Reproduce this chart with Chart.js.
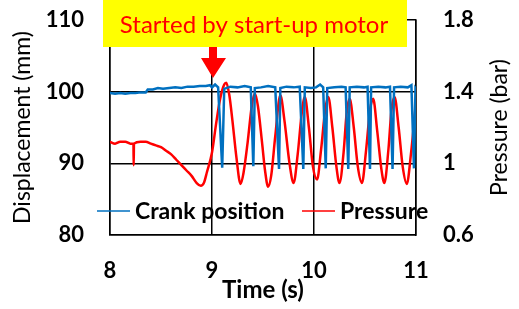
<!DOCTYPE html>
<html>
<head>
<meta charset="utf-8">
<script src="https://cdn.jsdelivr.net/npm/chart.js@4.4.1/dist/chart.umd.min.js"></script>
<style>
  html, body { margin: 0; padding: 0; background: #fff; }
  #wrap { width: 519px; height: 309px; }
</style>
</head>
<body>
<div id="wrap"><canvas id="chart"></canvas></div>
<script>
// crank position (mm)
const crankTime = [
  8.00, 8.05, 8.10, 8.15, 8.20, 8.25, 8.30, 8.35, 8.37, 8.42, 8.47, 8.52, 8.58, 8.64, 8.70,
  8.76, 8.82, 8.88, 8.94, 8.98, 9.00, 9.03, 9.06, 9.10, 9.12, 9.18, 9.25, 9.32, 9.38, 9.405,
  9.42, 9.48, 9.55, 9.62, 9.657, 9.67, 9.73, 9.80, 9.86, 9.895, 9.91, 9.97, 10.02, 10.06, 10.09,
  10.115, 10.13, 10.20, 10.27, 10.31, 10.336, 10.35, 10.42, 10.49, 10.525, 10.549, 10.56, 10.63, 10.70, 10.745,
  10.77, 10.785, 10.85, 10.92, 10.955, 10.98, 10.995, 11.00
]
const crankPos = [
  99.8, 99.7, 99.8, 99.7, 99.8, 99.8, 99.9, 99.9, 100.3, 100.3, 100.5, 100.4, 100.5, 100.6, 100.5,
  100.7, 100.7, 100.8, 100.8, 100.9, 100.6, 101.0, 100.6, 89.4, 100.4, 100.7, 100.6, 100.8, 100.6, 89.6,
  100.5, 100.6, 100.8, 100.6, 89.2, 100.5, 100.7, 100.6, 100.7, 89.2, 100.6, 100.5, 100.6, 101.0, 100.6,
  89.3, 100.5, 100.6, 100.7, 100.6, 89.2, 100.6, 100.7, 100.6, 100.7, 89.2, 100.6, 100.7, 100.6, 100.7,
  89.2, 100.6, 100.7, 100.6, 100.9, 89.3, 100.5, 100.4
]

// pressure (bar)
const pressureTime = [
  8.00, 8.05, 8.10, 8.15, 8.20, 8.23, 8.232, 8.235, 8.30, 8.35, 8.40, 8.45, 8.50, 8.55, 8.60,
  8.65, 8.70, 8.75, 8.80, 8.85, 8.89, 8.92, 8.95, 9.00, 9.04, 9.08, 9.12, 9.14, 9.17, 9.20,
  9.24, 9.28, 9.31, 9.35, 9.39, 9.42, 9.45, 9.49, 9.52, 9.55, 9.58, 9.62, 9.67, 9.71, 9.76,
  9.80, 9.84, 9.88, 9.91, 9.95, 9.99, 10.03, 10.07, 10.11, 10.14, 10.18, 10.22, 10.25, 10.29, 10.32,
  10.35, 10.39, 10.43, 10.47, 10.51, 10.55, 10.58, 10.62, 10.66, 10.69, 10.73, 10.76, 10.79, 10.83, 10.87,
  10.91, 10.95, 11.00
]
const pressure = [
  1.12, 1.11, 1.12, 1.12, 1.11, 1.11, 0.99, 1.11, 1.12, 1.12, 1.11, 1.10, 1.09, 1.07, 1.05,
  1.02, 0.99, 0.96, 0.93, 0.89, 0.875, 0.89, 0.95, 1.06, 1.22, 1.36, 1.44, 1.45, 1.38, 1.24,
  1.03, 0.885, 0.95, 1.12, 1.32, 1.39, 1.32, 1.12, 0.96, 0.87, 0.93, 1.15, 1.38, 1.24, 1.00,
  0.89, 1.05, 1.28, 1.37, 1.20, 0.98, 0.91, 1.08, 1.30, 1.37, 1.20, 0.98, 0.89, 1.06, 1.28,
  1.36, 1.20, 0.98, 0.89, 1.07, 1.30, 1.36, 1.18, 0.97, 0.89, 1.08, 1.30, 1.37, 1.20, 0.98,
  0.885, 1.05, 1.34
]

const xTicks = [8, 9, 10, 11]
const leftTicks = [80, 90, 100, 110]
const rightTicks = [0.6, 1, 1.4, 1.8]

const FONT = 'Lato, "Open Sans", sans-serif'
const BLUE = 'rgb(0, 112, 192)'
const RED = 'rgb(255, 0, 0)'

const toPoints = (xs, ys) => xs.map((x, i) => ({ x: x, y: ys[i] }))

// legend, note box, arrow and the right-hand title
const overlay = {
  id: 'overlay',
  afterDatasetsDraw(chart) {
    const ctx = chart.ctx
    const area = chart.chartArea
    const y = 211
    ctx.save()
    ctx.font = 'bold 23px ' + FONT
    ctx.textBaseline = 'middle'
    ctx.textAlign = 'left'
    let x = area.left - 13
    chart.data.datasets.forEach((ds) => {
      ctx.strokeStyle = ds.borderColor
      ctx.lineWidth = 1.5
      ctx.beginPath()
      ctx.moveTo(x, y)
      ctx.lineTo(x + 33, y)
      ctx.stroke()
      ctx.fillStyle = '#000'
      ctx.fillText(ds.label, x + 38, y + 1)
      x += 205
    })
    ctx.restore()
  },
  afterDraw(chart) {
    const ctx = chart.ctx
    const area = chart.chartArea
    const xs = chart.scales.x
    ctx.save()
    // note box
    ctx.fillStyle = '#ffff00'
    ctx.fillRect(103, 0, 304, 47)
    ctx.fillStyle = RED
    ctx.font = '24px ' + FONT
    ctx.textAlign = 'center'
    ctx.textBaseline = 'middle'
    ctx.fillText('Started by start-up motor', 254, 25)
    // arrow pointing at t = 9 s
    const ax = xs.getPixelForValue(9) + 1
    ctx.beginPath()
    ctx.moveTo(ax - 4, 47)
    ctx.lineTo(ax + 4, 47)
    ctx.lineTo(ax + 4, 58)
    ctx.lineTo(ax + 13, 58)
    ctx.lineTo(ax, 78)
    ctx.lineTo(ax - 12, 58)
    ctx.lineTo(ax - 4, 58)
    ctx.closePath()
    ctx.fill()
    // right axis title, reading bottom to top
    ctx.fillStyle = '#000'
    ctx.font = '23px ' + FONT
    ctx.translate(500, (area.top + area.bottom) / 2)
    ctx.rotate(-Math.PI / 2)
    ctx.fillText('Pressure (bar)', 0, 0)
    ctx.restore()
  }
}

// invisible tick marks give the gap between labels and the plot
// (ticks.padding would also push the plot area down)
const hiddenTicks = (len) => ({ color: '#000', lineWidth: 1.5, drawTicks: true, tickLength: len, tickColor: 'rgba(0,0,0,0)' })

new Chart(document.getElementById('chart'), {
  type: 'line',
  data: {
    datasets: [
      {
        label: 'Crank position',
        data: toPoints(crankTime, crankPos),
        yAxisID: 'y',
        borderColor: BLUE,
        borderWidth: 2.5,
        pointRadius: 0,
        tension: 0
      },
      {
        label: 'Pressure',
        data: toPoints(pressureTime, pressure),
        yAxisID: 'y1',
        borderColor: RED,
        borderWidth: 2.5,
        pointRadius: 0,
        cubicInterpolationMode: 'monotone'
      }
    ]
  },
  options: {
    responsive: true,
    maintainAspectRatio: false,
    animation: false,
    layout: { padding: { top: 20, left: 0, right: 0, bottom: 0 } },
    plugins: {
      legend: { display: false },
      tooltip: { enabled: false }
    },
    scales: {
      x: {
        type: 'linear',
        min: 8,
        max: 11,
        afterBuildTicks: (axis) => { axis.ticks = xTicks.map(v => ({ value: v })) },
        afterFit: (axis) => { axis.height = 74 },
        grid: { color: '#000', lineWidth: 1.5, drawTicks: false },
        border: { color: '#000', width: 1.5 },
        ticks: { color: '#000', padding: 23, font: { family: FONT, size: 22, weight: 'bold' } },
        title: {
          display: true,
          text: 'Time (s)',
          color: '#000',
          padding: { top: 0, bottom: 4 },
          font: { family: FONT, size: 24, weight: 'bold' }
        }
      },
      y: {
        position: 'left',
        min: 80,
        max: 110,
        afterBuildTicks: (axis) => { axis.ticks = leftTicks.map(v => ({ value: v })) },
        afterFit: (axis) => { axis.width = 110 },
        grid: hiddenTicks(26),
        border: { color: '#000', width: 1.5 },
        ticks: { color: '#000', padding: 0, font: { family: FONT, size: 22, weight: 'bold' } },
        title: {
          display: true,
          text: 'Displacement (mm)',
          color: '#000',
          padding: { top: 9, bottom: 0 },
          font: { family: FONT, size: 23 }
        }
      },
      y1: {
        position: 'right',
        min: 0.6,
        max: 1.8,
        afterBuildTicks: (axis) => { axis.ticks = rightTicks.map(v => ({ value: v })) },
        afterFit: (axis) => { axis.width = 103 },
        grid: { display: true, drawOnChartArea: false, drawTicks: true, tickLength: 27, tickColor: 'rgba(0,0,0,0)' },
        border: { color: '#000', width: 1.5 },
        ticks: {
          color: '#000',
          padding: 0,
          font: { family: FONT, size: 22, weight: 'bold' },
          callback: (v) => String(Number(v.toFixed(1)))
        }
      }
    }
  },
  plugins: [overlay]
})
</script>
</body>
</html>
